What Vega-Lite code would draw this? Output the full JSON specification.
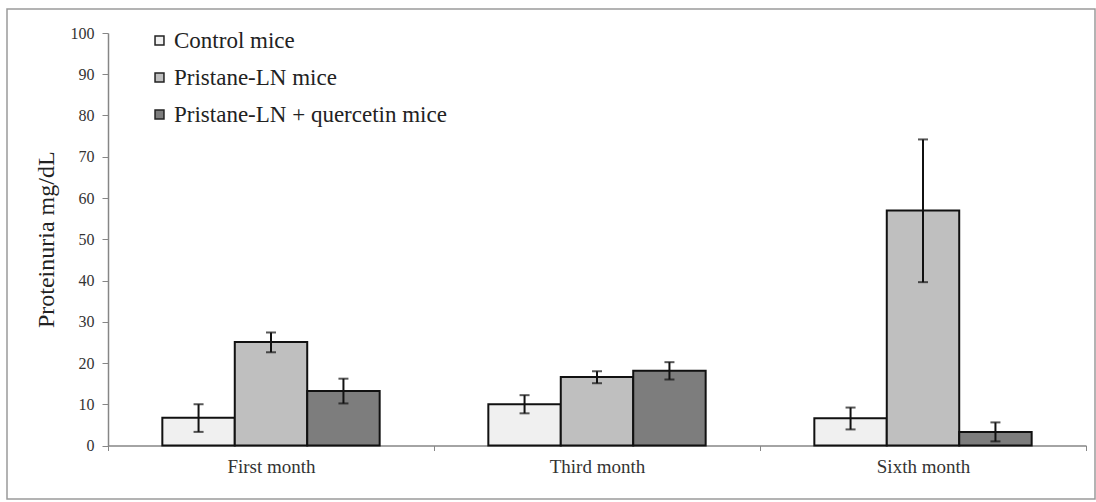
{
  "$schema": "https://vega.github.io/schema/vega-lite/v6.json",
  "width": 1088,
  "height": 490,
  "autosize": {"type": "none"},
  "padding": {"left": 7, "top": 9, "right": 1, "bottom": 3},
  "background": "white",
  "config": {
    "view": {"stroke": "#9a9a9a", "strokeWidth": 1.5},
    "font": "'Liberation Serif', 'Times New Roman', 'DejaVu Serif', serif",
    "axis": {"labelFont": "'Liberation Serif', 'Times New Roman', 'DejaVu Serif', serif", "titleFont": "'Liberation Serif', 'Times New Roman', 'DejaVu Serif', serif"},
    "legend": {"labelFont": "'Liberation Serif', 'Times New Roman', 'DejaVu Serif', serif"}
  },
  "data": {
    "values": [
      {"month": "First month", "group": "Control mice", "value": 6.7, "lo": 3.3, "hi": 10.0},
      {"month": "First month", "group": "Pristane-LN mice", "value": 25.1, "lo": 22.6, "hi": 27.4},
      {"month": "First month", "group": "Pristane-LN + quercetin mice", "value": 13.2, "lo": 10.2, "hi": 16.2},
      {"month": "Third month", "group": "Control mice", "value": 10.0, "lo": 7.8, "hi": 12.2},
      {"month": "Third month", "group": "Pristane-LN mice", "value": 16.6, "lo": 15.1, "hi": 18.0},
      {"month": "Third month", "group": "Pristane-LN + quercetin mice", "value": 18.1, "lo": 16.0, "hi": 20.2},
      {"month": "Sixth month", "group": "Control mice", "value": 6.6, "lo": 3.9, "hi": 9.2},
      {"month": "Sixth month", "group": "Pristane-LN mice", "value": 57.0, "lo": 39.6, "hi": 74.2},
      {"month": "Sixth month", "group": "Pristane-LN + quercetin mice", "value": 3.3, "lo": 1.0, "hi": 5.6}
    ]
  },
  "encoding": {
    "x": {
      "field": "month",
      "type": "nominal",
      "sort": ["First month", "Third month", "Sixth month"],
      "scale": {"range": [101, 1079], "paddingInner": 0, "paddingOuter": 0},
      "axis": {
        "title": null,
        "labelAngle": 0,
        "tickBand": "extent",
        "tickSize": 5,
        "tickColor": "#868686",
        "domainColor": "#868686",
        "domainWidth": 1.5,
        "labelFontSize": 19,
        "labelColor": "#333333",
        "labelPadding": 7,
        "offset": -53.5
      }
    },
    "xOffset": {
      "field": "group",
      "type": "nominal",
      "sort": ["Control mice", "Pristane-LN mice", "Pristane-LN + quercetin mice"],
      "scale": {"paddingInner": 0, "paddingOuter": 0.75}
    }
  },
  "layer": [
    {
      "mark": {"type": "bar", "stroke": "#111111", "strokeWidth": 2},
      "encoding": {
        "y": {
          "field": "value",
          "type": "quantitative",
          "title": "Proteinuria mg/dL",
          "scale": {"domain": [0, 100], "range": [436.5, 24], "nice": false},
          "axis": {
            "values": [0, 10, 20, 30, 40, 50, 60, 70, 80, 90, 100],
            "grid": false,
            "offset": -101,
            "tickSize": 6,
            "tickColor": "#868686",
            "domainColor": "#868686",
            "domainWidth": 1.5,
            "labelFontSize": 16,
            "labelColor": "#333333",
            "labelPadding": 8,
            "titleFontSize": 24,
            "titleFontWeight": "normal",
            "titleColor": "#222222",
            "titlePadding": 12
          }
        },
        "fill": {
          "field": "group",
          "type": "nominal",
          "scale": {
            "domain": ["Control mice", "Pristane-LN mice", "Pristane-LN + quercetin mice"],
            "range": ["#f0f0f0", "#bfbfbf", "#7d7d7d"]
          },
          "legend": {
            "orient": "none",
            "legendX": 141,
            "legendY": 20,
            "title": null,
            "symbolType": "square",
            "symbolSize": 80,
            "symbolStrokeColor": "#222222",
            "symbolStrokeWidth": 1.5,
            "labelFontSize": 23,
            "labelColor": "#222222",
            "labelLimit": 500,
            "labelOffset": 3,
            "rowPadding": 13,
            "padding": 0
          }
        }
      }
    },
    {
      "mark": {"type": "rule", "color": "#111111", "strokeWidth": 2},
      "encoding": {
        "y": {"field": "lo", "type": "quantitative", "title": "Proteinuria mg/dL"},
        "y2": {"field": "hi"}
      }
    },
    {
      "mark": {"type": "tick", "color": "#111111", "thickness": 2, "size": 10},
      "encoding": {
        "y": {"field": "lo", "type": "quantitative", "title": "Proteinuria mg/dL"}
      }
    },
    {
      "mark": {"type": "tick", "color": "#111111", "thickness": 2, "size": 10},
      "encoding": {
        "y": {"field": "hi", "type": "quantitative", "title": "Proteinuria mg/dL"}
      }
    }
  ]
}
